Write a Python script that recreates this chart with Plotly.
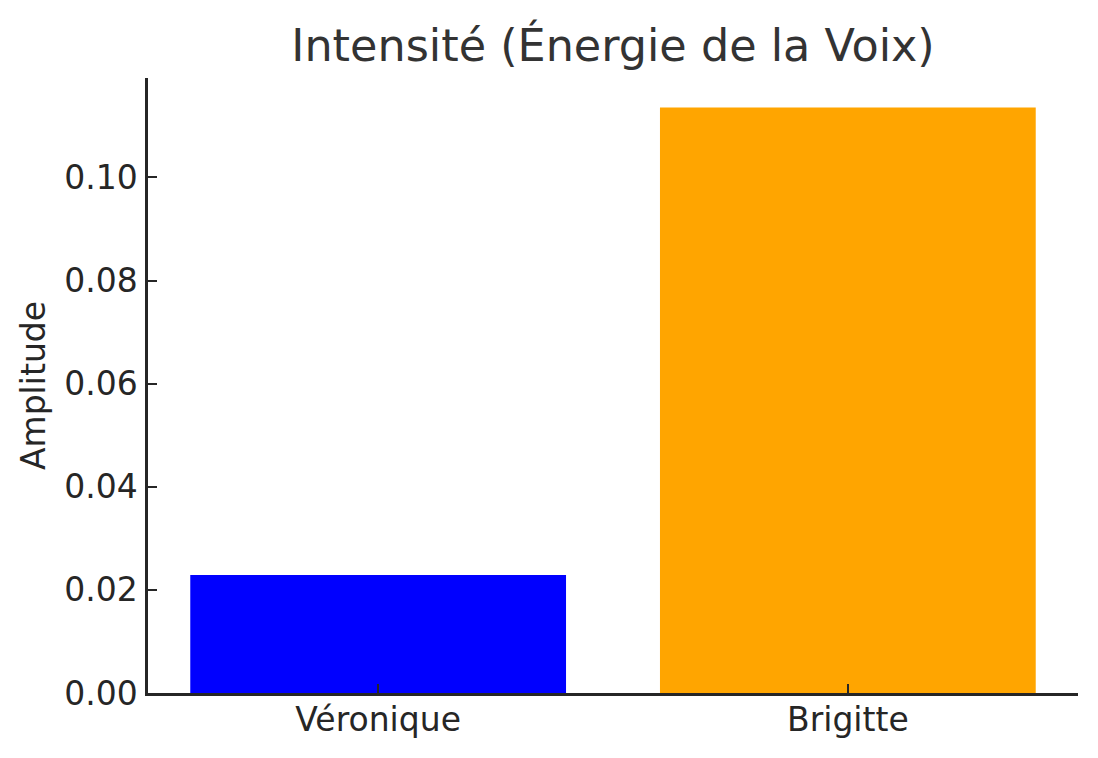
import plotly.graph_objects as go

categories = ["Véronique", "Brigitte"]
values = [0.0229, 0.1136]
colors = ["#0000FF", "#FFA500"]
y_ticks = [0.0, 0.02, 0.04, 0.06, 0.08, 0.10]
y_tick_labels = ["0.00", "0.02", "0.04", "0.06", "0.08", "0.10"]

fig = go.Figure(
    go.Bar(x=[0, 1], y=values, marker=dict(color=colors, line=dict(width=0)), width=0.8)
)

axis_color = "#262626"
font_family = "DejaVu Sans"

# page body has an 8px margin; compensate so the plot area lands where the reference has it
fig.update_layout(
    width=1090,
    height=750,
    margin=dict(l=140, r=20, t=70, b=65),
    paper_bgcolor="white",
    plot_bgcolor="white",
    showlegend=False,
    font=dict(family=font_family, size=33, color=axis_color),
    title=dict(
        text="Intensité (Énergie de la Voix)",
        x=0.5,
        xref="paper",
        xanchor="center",
        y=1 - 37 / 750,
        yref="container",
        yanchor="middle",
        font=dict(family=font_family, size=44.5, color="#333333"),
    ),
)

fig.update_xaxes(
    range=[-0.49, 1.49],
    tickmode="array",
    tickvals=[0, 1],
    ticktext=categories,
    showgrid=False,
    zeroline=False,
    showline=True,
    linecolor=axis_color,
    linewidth=2.5,
    ticks="inside",
    ticklen=9,
    tickwidth=2,
    tickcolor=axis_color,
    ticklabelstandoff=-4,
    tickfont=dict(size=33, color=axis_color),
)

fig.update_yaxes(
    range=[0, 0.1193],
    tickmode="array",
    tickvals=y_ticks,
    ticktext=y_tick_labels,
    showgrid=False,
    zeroline=False,
    showline=True,
    linecolor=axis_color,
    linewidth=2.5,
    ticks="inside",
    ticklen=9,
    tickwidth=2,
    tickcolor=axis_color,
    ticklabelstandoff=1,
    tickfont=dict(size=33, color=axis_color),
    title=dict(text="Amplitude", font=dict(size=33, color=axis_color), standoff=9),
)

fig.write_html("out.html")
